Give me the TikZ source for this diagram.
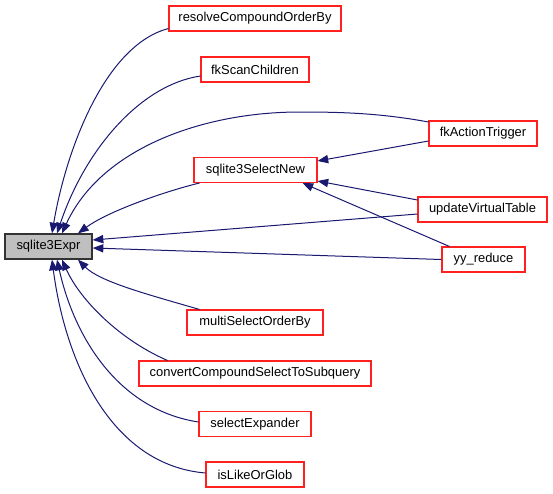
\documentclass[tikz,border=0pt]{standalone}
\usepackage{fontspec}
\setmainfont{Liberation Sans}
\usetikzlibrary{calc,arrows.meta}
\definecolor{edgeblue}{HTML}{191970}
\definecolor{boxred}{HTML}{FF2020}
\definecolor{boxgray}{HTML}{BFBFBF}
\begin{document}
\begin{tikzpicture}[x=0.75pt,y=-0.75pt,
  fn/.style={draw=boxred, fill=white, line width=0.8pt, inner sep=0pt,
    minimum height=18.75pt, font=\fontsize{9.7}{11}\selectfont},
  mainfn/.style={fn, draw=black!80, fill=boxgray, line width=1pt},
  call/.style={draw=edgeblue, line width=0.75pt,
    -{Triangle[length=8pt,width=6.2pt]}}]
\useasboundingbox (0,0) rectangle (553,493);
% nodes
\node[mainfn, minimum width=65.25pt] (ex)  at (48.5,246.5) {sqlite3Expr};
\node[fn, minimum width=129pt]   (rc)  at (255,18.5)  {resolveCompoundOrderBy};
\node[fn, minimum width=81pt]    (fks) at (255,69.5)  {fkScanChildren};
\node[fn, minimum width=92.25pt] (sn)  at (255.5,170) {sqlite3SelectNew};
\node[fn, minimum width=81pt]    (fat) at (483,133.5) {fkActionTrigger};
\node[fn, minimum width=96.75pt] (uvt) at (482.5,209.5) {updateVirtualTable};
\node[fn, minimum width=62.25pt] (yy)  at (483.5,259.5) {yy\_reduce};
\node[fn, minimum width=102pt]   (mso) at (255,322.5) {multiSelectOrderBy};
\node[fn, minimum width=174pt]   (cc)  at (255,373.5) {convertCompoundSelectToSubquery};
\node[fn, minimum width=84pt]    (se)  at (255,424)   {selectExpander};
\node[fn, minimum width=73.5pt]  (il)  at (255,474.5) {isLikeOrGlob};
% edges to sqlite3Expr (top)
\draw[call] ($(rc.south west)+(0,-3)$) .. controls (105,45) and (66,150) .. ($(ex.north)+(3.5,0)$);
\draw[call] ($(fks.west)+(0,6.5)$) .. controls (140,85) and (85,150) .. ($(ex.north)+(8.5,0)$);
\draw[call] ($(fat.west)+(0,-11.5)$) .. controls (380,113) and (340,112) .. (300,112)
   .. controls (200,112) and (100,150) .. ($(ex.north)+(13.5,0)$);
\draw[call] ($(sn.south west)+(6,0)$) .. controls (170,190) and (110,210) .. ($(ex.north)+(29.5,0)$);
% edges to sqlite3Expr (right)
\draw[call] ($(uvt.west)+(0,4.5)$) -- ($(ex.east)+(0,-6.5)$);
\draw[call] (yy.west) -- ($(ex.east)+(0,1.5)$);
% edges to sqlite3SelectNew
\draw[call] ($(fat.west)+(0,7.5)$) -- ($(sn.east)+(0,-9)$);
\draw[call] ($(uvt.west)+(0,-9.5)$) -- ($(sn.east)+(0,11)$);
\draw[call] ($(yy.north west)+(8,0)$) -- ($(sn.south east)+(-15,0)$);
% edges to sqlite3Expr (bottom)
\draw[call] ($(mso.north west)+(13,0)$) .. controls (150,295) and (100,282) .. ($(ex.south)+(29.5,0)$);
\draw[call] ($(cc.north west)+(29,0)$) .. controls (120,340) and (80,300) .. ($(ex.south)+(13.5,0)$);
\draw[call] ($(se.west)+(0,-2)$) .. controls (120,410) and (75,340) .. ($(ex.south)+(8.5,0)$);
\draw[call] ($(il.west)+(0,-1.5)$) .. controls (110,465) and (65,360) .. ($(ex.south)+(3.5,0)$);
\end{tikzpicture}
\end{document}
